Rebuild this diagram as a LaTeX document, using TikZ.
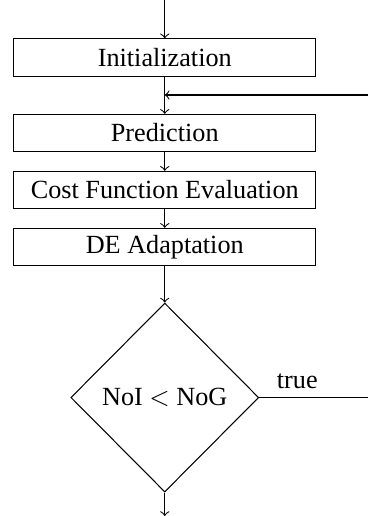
\documentclass[tikz,border=0pt]{standalone}
\usepackage{fontspec}
\setmainfont{Liberation Serif}
\usetikzlibrary{shapes.geometric}

\begin{document}
\begin{tikzpicture}[
          stage/.style={draw,minimum width=4.05cm,minimum height=0.5cm,inner sep=0pt},
          decision/.style={draw,diamond,minimum width=2.52cm,minimum height=2.535cm,inner sep=0pt},
        ]
        \useasboundingbox (0, 0) rectangle (4.936, 6.921);

        \node[stage] (init)  at (2.21, 6.15)  {Initialization};
        \node[stage] (pred)  at (2.21, 5.137) {Prediction};
        \node[stage] (cost)  at (2.21, 4.373) {Cost Function Evaluation};
        \node[stage] (adapt) at (2.21, 3.608) {DE Adaptation};
        \node[decision] (check) at (2.21, 1.589) {NoI $<$ NoG};

        \coordinate (start) at (2.21, 6.921);
        \coordinate (back)  at (4.936, 5.647);
        \coordinate (exit)  at (4.936, 1.589);
        \coordinate (stop)  at (2.21, 0);

        \draw[->] (start) -- (init);
        \draw[->] (init) -- (pred);
        \draw[->] (back) -- (back -| init);
        \draw[->] (pred) -- (cost);
        \draw[->] (cost) -- (adapt);
        \draw[->] (adapt) -- (check);
        \draw (check) -- (exit) node[pos=0.35, above] {true};
        \draw[->] (check) -- (stop);
      \end{tikzpicture}
\end{document}
